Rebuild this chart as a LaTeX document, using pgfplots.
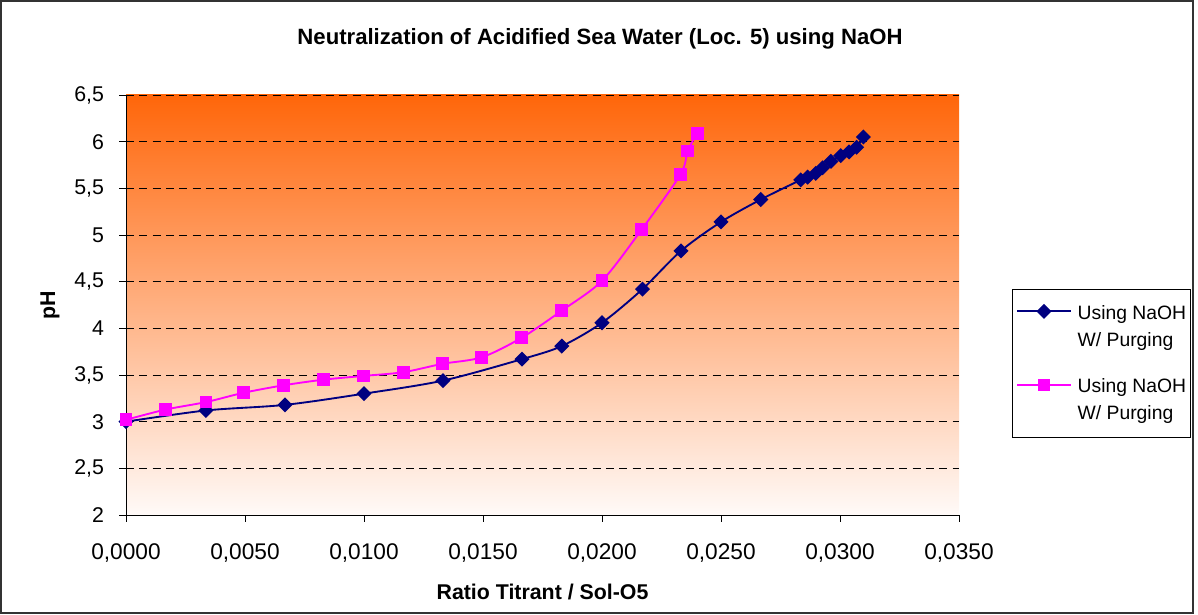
\documentclass[border=0pt]{standalone}
\usepackage{pgfplots}
\pgfplotsset{compat=1.18}
\usepackage{fontspec}
\setmainfont{Liberation Sans}

\definecolor{navyline}{RGB}{0,0,128}
\definecolor{magline}{RGB}{255,0,255}
\definecolor{bgtop}{RGB}{255,102,10}
\definecolor{bgmid}{RGB}{255,188,168}
\definecolor{bgbottom}{RGB}{255,250,248}

\begin{document}
\begin{tikzpicture}[x=0.75pt,y=0.75pt]
\useasboundingbox (0,0) rectangle (1198,614);
\draw[line width=1.5pt, black!80] (1,1) rectangle (1193,612.5);

\node[font=\bfseries\fontsize{16.6}{19}\selectfont] at (600,575) {Neutralization of Acidified Sea Water (Loc. 5) using NaOH};

\begin{axis}[
  at={(94.5pt,74.25pt)}, anchor=south west,
  scale only axis,
  width=624.75pt, height=315pt,
  xmin=0, xmax=0.035,
  ymin=2, ymax=6.5,
  axis x line=bottom, axis y line=left,
  axis line style={-, black, line width=0.7pt},
  scaled x ticks=false,
  xtick={0,0.005,0.01,0.015,0.02,0.025,0.03,0.035},
  xticklabels={{0,0000},{0,0050},{0,0100},{0,0150},{0,0200},{0,0250},{0,0300},{0,0350}},
  ytick={2,2.5,3,3.5,4,4.5,5,5.5,6,6.5},
  yticklabels={2,{2,5},3,{3,5},4,{4,5},5,{5,5},6,{6,5}},
  tick align=outside,
  major tick length=5pt,
  tick style={black, line width=0.6pt},
  xticklabel style={font=\fontsize{17}{20}\selectfont, yshift=-13pt},
  yticklabel style={font=\fontsize{16}{19}\selectfont, xshift=-8pt},
  ymajorgrids,
  grid style={black, line width=0.6pt, dash pattern=on 6pt off 4pt},
  axis background/.style={top color=bgtop, middle color=bgmid, bottom color=bgbottom},
  xlabel={Ratio Titrant / Sol-O5},
  ylabel={pH},
  label style={font=\bfseries\fontsize{16}{19}\selectfont},
  xlabel style={at={(axis description cs:0.5,0)}, anchor=center, yshift=-57.75pt},
  ylabel style={at={(axis description cs:-0.0912,0.5)}, anchor=center},
  legend cell align=left,
  legend image code/.code={
    \path[draw=none, fill=none] (0pt,-16pt) -- (40pt,-16pt);
    \draw[mark repeat=2, mark phase=2] plot coordinates {(0pt,11.5pt) (20pt,11.5pt) (40pt,11.5pt)};
  },
  legend style={at={(axis description cs:1.0636,0.3607)}, anchor=west,
    draw=black, line width=0.7pt, fill=white,
    font=\fontsize{14.5}{20.25}\selectfont,
    inner xsep=3pt, inner ysep=12pt,
    nodes={align=left, inner sep=0pt},
    row sep=23pt, column sep=4.5pt},
]

\addplot[color=navyline, line width=1.4pt, smooth, tension=0.5,
  mark=square*, mark size=3.3pt, mark options={rotate=45, solid, fill=navyline}]
coordinates {
(0.00000, 3.00)
(0.00336, 3.12)
(0.00668, 3.18)
(0.01000, 3.30)
(0.01332, 3.44)
(0.01664, 3.67)
(0.01831, 3.81)
(0.02000, 4.06)
(0.02170, 4.42)
(0.02332, 4.83)
(0.02500, 5.14)
(0.02667, 5.38)
(0.02835, 5.59)
(0.02864, 5.62)
(0.02898, 5.66)
(0.02927, 5.72)
(0.02962, 5.79)
(0.03003, 5.85)
(0.03038, 5.89)
(0.03070, 5.94)
(0.03098, 6.05)
};
\addlegendentry{Using NaOH\\W/ Purging}

\addplot[color=magline, line width=1.4pt, smooth, tension=0.5,
  mark=square*, mark size=4.1pt, mark options={solid, fill=magline}]
coordinates {
(0.00000, 3.02)
(0.00167, 3.13)
(0.00336, 3.21)
(0.00495, 3.31)
(0.00663, 3.39)
(0.00830, 3.45)
(0.00997, 3.49)
(0.01165, 3.53)
(0.01330, 3.62)
(0.01495, 3.69)
(0.01663, 3.90)
(0.01831, 4.19)
(0.02000, 4.51)
(0.02167, 5.06)
(0.02330, 5.65)
(0.02360, 5.90)
(0.02400, 6.09)
};
\addlegendentry{Using NaOH\\W/ Purging}

\end{axis}
\end{tikzpicture}
\end{document}
